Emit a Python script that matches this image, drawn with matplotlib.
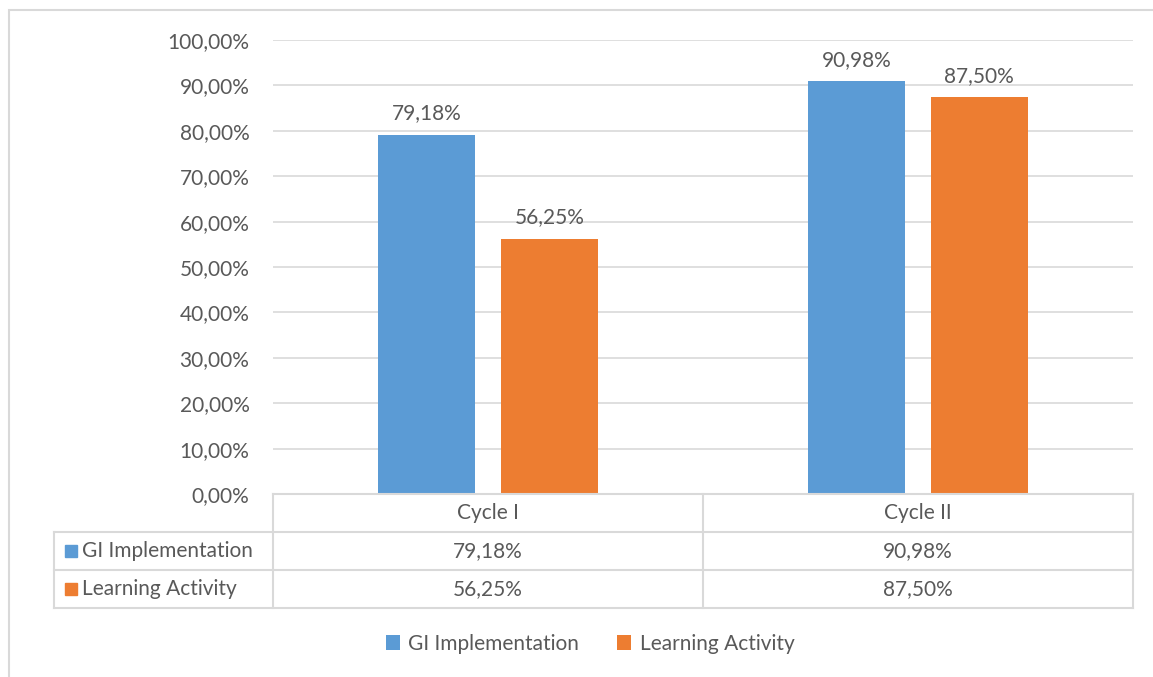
import matplotlib.pyplot as plt
from matplotlib.patches import Patch, Rectangle
from matplotlib.lines import Line2D

# data
categories = ["Cycle I", "Cycle II"]
series_names = ["GI Implementation", "Learning Activity"]
gi_values = [79.18, 90.98]
la_values = [56.25, 87.50]
y_ticks = [0, 10, 20, 30, 40, 50, 60, 70, 80, 90, 100]

colors = ["#5B9BD5", "#ED7D31"]
text_col = "#595959"
grid_col = "#D9D9D9"

plt.rcParams['font.family'] = ['Lato', 'DejaVu Sans']
fs = 15


def pct(v):
    return f"{v:.2f}%".replace(".", ",")


W, H = 1153, 677
fig = plt.figure(figsize=(W / 100, H / 100), dpi=100)


def frect(x0, y0, x1, y1):
    # pixel box (top-left origin) -> figure fraction [l, b, w, h]
    return [x0 / W, 1 - y1 / H, (x1 - x0) / W, (y1 - y0) / H]


# outer chart border
fig.add_artist(Rectangle((9 / W, -0.1), 1.2, 1 - 10 / H + 0.1, transform=fig.transFigure,
                         fill=False, edgecolor=grid_col, lw=1.5))

# main plot
ax = fig.add_axes(frect(273, 40, 1133, 494))
bar_w = 0.225
gap = 0.06
xs = range(len(categories))
all_series = [gi_values, la_values]
for i, vals in enumerate(all_series):
    offs = (i - 0.5) * (bar_w + gap)
    pos = [x + offs for x in xs]
    bars = ax.bar(pos, vals, width=bar_w, color=colors[i], zorder=3)
    for b, v in zip(bars, vals):
        ax.annotate(pct(v), (b.get_x() + b.get_width() / 2, v), xytext=(0, 8),
                    textcoords="offset points", ha="center", va="bottom",
                    fontsize=fs, color=text_col)

ax.set_xlim(-0.5, len(categories) - 0.5)
ax.set_ylim(0, 100)
ax.set_yticks(y_ticks)
ax.set_yticklabels([pct(t) for t in y_ticks], fontsize=fs, color=text_col)
ax.tick_params(axis="y", length=0, pad=17)
ax.set_xticks([])
for s in ax.spines.values():
    s.set_visible(False)
ax.yaxis.grid(True, color=grid_col, lw=1.2, zorder=0)
ax.set_axisbelow(True)

# data table below the plot
label_w = (273 - 54) / ((1133 - 273) / len(categories))
tax = fig.add_axes(frect(54, 494, 1133, 608))
x_left = -0.5 - label_w
x_right = len(categories) - 0.5
tax.set_xlim(x_left, x_right)
tax.set_ylim(3, 0)
tax.axis("off")
lk = dict(color=grid_col, lw=1.5, clip_on=False)
tax.add_line(Line2D([-0.5, x_right], [0, 0], **lk))
for r in [1, 2, 3]:
    tax.add_line(Line2D([x_left, x_right], [r, r], **lk))
tax.add_line(Line2D([x_left, x_left], [1, 3], **lk))
for c in range(len(categories) + 1):
    tax.add_line(Line2D([c - 0.5, c - 0.5], [0, 3], **lk))

for j, cat in enumerate(categories):
    tax.text(j, 0.5, cat, ha="center", va="center", fontsize=fs, color=text_col)
for i, (name, vals) in enumerate(zip(series_names, all_series)):
    row = i + 1.5
    tax.plot([x_left + 0.04], [row], marker="s", ms=8, color=colors[i], clip_on=False)
    tax.text(x_left + 0.065, row, name, ha="left", va="center", fontsize=fs, color=text_col)
    for j, v in enumerate(vals):
        tax.text(j, row, pct(v), ha="center", va="center", fontsize=fs, color=text_col)

# legend
handles = [Patch(facecolor=c, edgecolor="none") for c in colors]
fig.legend(handles, series_names, loc="center", bbox_to_anchor=(590 / W, 1 - 644 / H),
           ncol=2, frameon=False, fontsize=fs, labelcolor=text_col,
           handlelength=0.7, handleheight=0.7, handletextpad=0.4, columnspacing=1.8)

fig.savefig("out.png", dpi=100)
